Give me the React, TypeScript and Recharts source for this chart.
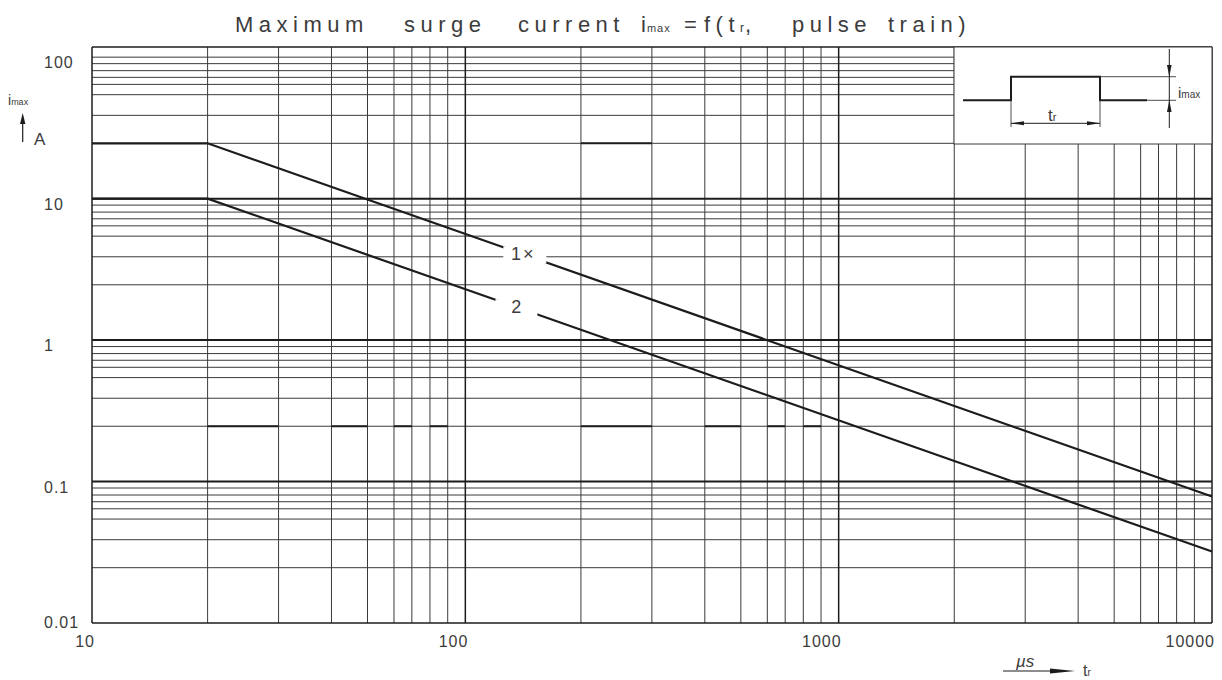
import React from "react";
import { LineChart, Line, XAxis, YAxis, ReferenceLine } from "recharts";

// pulse duration t_r in µs, and the two limit curves (A)
const T_US = [10, 20.4, 10000];
const I_1X = [24.6, 24.6, 0.0783];
const I_2 = [10, 10, 0.032];

const X_TICKS = [10, 100, 1000, 10000];
const Y_TICKS = [0.01, 0.1, 1, 10, 100];
const X_DECADES = [10, 100, 1000];
const Y_DECADES = [0.01, 0.1, 1, 10];
// the drawing's own (hand made) sub-division lines inside each decade
const X_MINOR = [2.04, 3.16, 4.38, 5.47, 6.44, 7.19, 8.04, 8.97];
const Y_MINOR = [2.46, 3.88, 5.43, 6.42, 7.2, 8.03, 9.0];
const Y_TOP = 118;

// cells drawn with a heavier line in the original sheet [x1, x2, y]
const HEAVY_CELLS: [number, number, number][] = [
  [20.4, 31.6, 0.246],
  [43.8, 54.7, 0.246],
  [64.4, 71.9, 0.246],
  [80.4, 89.7, 0.246],
  [204, 316, 0.246],
  [438, 547, 0.246],
  [644, 719, 0.246],
  [804, 897, 0.246],
  [204, 316, 24.6],
];

const W = 1222;
const H = 680;
const LEFT = 92;
const RIGHT = 1212;
const TOP = 47;
const BOTTOM = 623;
const FONT = "'Liberation Sans', Arial, sans-serif";
const INK = "#1c1c1c";
const GRID = "#3a3a3a";
const TXT = "#3c3c3c";

const data = T_US.map((t, i) => ({ t, one: I_1X[i], two: I_2[i] }));

const minorX = X_DECADES.flatMap((d) => X_MINOR.map((m) => +(d * m).toPrecision(4)));
const minorY = Y_DECADES.flatMap((d) => Y_MINOR.map((m) => +(d * m).toPrecision(4)));

// same mapping the chart uses, for placing the annotation overlay
const px = (t: number) =>
  LEFT + ((RIGHT - LEFT) * Math.log10(t / 10)) / 3;
const py = (v: number) =>
  BOTTOM - ((BOTTOM - TOP) * Math.log10(v / 0.01)) / Math.log10(Y_TOP / 0.01);

// log-log interpolation along a series, for the curve labels
const along = (ys: number[], t: number) => {
  for (let i = 0; i < T_US.length - 1; i++) {
    if (t >= T_US[i] && t <= T_US[i + 1]) {
      const f = Math.log(t / T_US[i]) / Math.log(T_US[i + 1] / T_US[i]);
      return Math.exp(Math.log(ys[i]) + f * Math.log(ys[i + 1] / ys[i]));
    }
  }
  return ys[ys.length - 1];
};

const XTick = (props: any) => {
  const { x, payload } = props;
  return (
    <text x={x + 3} y={647} textAnchor="end" fontFamily={FONT} fontSize={16} letterSpacing={1} fill={TXT}>
      {payload.value}
    </text>
  );
};

const YTick = (props: any) => {
  const { y, payload } = props;
  const cy = Math.min(Math.max(y + 5, 50), 622);
  return (
    <text x={44} y={cy + 6} textAnchor="start" fontFamily={FONT} fontSize={16} letterSpacing={1} fill={TXT}>
      {payload.value}
    </text>
  );
};

const Overlay = () => {
  const l1t = 143;
  const l2t = 137;
  const l1 = { x: px(l1t), y: py(along(I_1X, l1t)) };
  const l2 = { x: px(l2t), y: py(along(I_2, l2t)) };
  return (
    <svg
      width={W}
      height={H}
      style={{ position: "absolute", left: 0, top: 0, pointerEvents: "none" }}
    >
      {/* title */}
      <text y={32} fontFamily={FONT} fontSize={22} fill={TXT} letterSpacing={5.5}>
        <tspan x={235}>Maximum</tspan>
        <tspan x={404}>surge</tspan>
        <tspan x={518}>current</tspan>
        <tspan x={641} letterSpacing={1}>i</tspan>
        <tspan fontSize={11} letterSpacing={1}>max</tspan>
        <tspan x={684}>=</tspan>
        <tspan x={704}>f(t</tspan>
        <tspan fontSize={12} letterSpacing={1}>r</tspan>
        <tspan>,</tspan>
        <tspan x={792}>pulse</tspan>
        <tspan x={888}>train)</tspan>
      </text>

      {/* y axis caption */}
      <text x={8} y={105} fontFamily={FONT} fill={TXT}>
        <tspan fontSize={14}>i</tspan>
        <tspan fontSize={9}>max</tspan>
      </text>
      <line x1={22.7} y1={142} x2={22.7} y2={122} stroke={INK} strokeWidth={1.2} />
      <polygon points="20,124 25.4,124 22.7,113" fill={INK} />
      <text x={34} y={145} fontFamily={FONT} fontSize={17} fill={TXT}>A</text>

      {/* x axis caption */}
      <text x={1016} y={667} fontFamily={FONT} fontSize={17} fontStyle="italic" fill={TXT}>µs</text>
      <line x1={1003} y1={671} x2={1055} y2={671} stroke={INK} strokeWidth={1.2} />
      <polygon points="1050,668.5 1075,671 1050,673.5" fill={INK} />
      <text x={1083} y={676} fontFamily={FONT} fill={TXT}>
        <tspan fontSize={16}>t</tspan>
        <tspan fontSize={10}>r</tspan>
      </text>

      {/* curve labels */}
      <rect x={l1.x - 20} y={l1.y - 8} width={43} height={17} fill="#fff" />
      <text x={l1.x} y={l1.y + 6} textAnchor="middle" fontFamily={FONT} fontSize={18} letterSpacing={2} fill={TXT}>
        1×
      </text>
      <rect x={l2.x - 21} y={l2.y - 8} width={42} height={17} fill="#fff" />
      <text x={l2.x} y={l2.y + 6} textAnchor="middle" fontFamily={FONT} fontSize={18} fill={TXT}>
        2
      </text>

      {/* pulse sketch */}
      <rect x={954} y={TOP} width={RIGHT - 954} height={144 - TOP} fill="#fff" stroke={GRID} strokeWidth={1} />
      <polyline
        points="963,100.3 1011,100.3 1011,76.7 1100,76.7 1100,100.3 1147,100.3"
        fill="none"
        stroke={INK}
        strokeWidth={2}
      />
      <line x1={1100} y1={76.7} x2={1176} y2={76.7} stroke={GRID} strokeWidth={0.9} />
      <line x1={1147} y1={100.3} x2={1176} y2={100.3} stroke={GRID} strokeWidth={0.9} />
      <line x1={1011} y1={100} x2={1011} y2={127} stroke={GRID} strokeWidth={0.9} />
      <line x1={1100} y1={100} x2={1100} y2={127} stroke={GRID} strokeWidth={0.9} />
      <line x1={1169.3} y1={49} x2={1169.3} y2={128} stroke={INK} strokeWidth={1} />
      <polygon points="1167,65 1171.6,65 1169.3,76.7" fill={INK} />
      <polygon points="1167,112 1171.6,112 1169.3,100.3" fill={INK} />
      <line x1={1011} y1={123.3} x2={1100} y2={123.3} stroke={INK} strokeWidth={1} />
      <polygon points="1011,123.3 1024,121.3 1024,125.3" fill={INK} />
      <polygon points="1100,123.3 1087,121.3 1087,125.3" fill={INK} />
      <text x={1048} y={121} fontFamily={FONT} fill={TXT}>
        <tspan fontSize={17}>t</tspan>
        <tspan fontSize={11}>r</tspan>
      </text>
      <text x={1178} y={98} fontFamily={FONT} fill={TXT}>
        <tspan fontSize={15}>i</tspan>
        <tspan fontSize={10}>max</tspan>
      </text>
    </svg>
  );
};

export default function App() {
  return (
    <div style={{ position: "absolute", left: 0, top: 0, width: W, height: H, background: "#fff" }}>
      <LineChart
        width={W}
        height={H}
        data={data}
        margin={{ top: TOP, right: W - RIGHT, bottom: H - BOTTOM - 40, left: LEFT - 60 }}
      >
        <XAxis
          dataKey="t"
          type="number"
          scale="log"
          domain={[10, 10000]}
          ticks={X_TICKS}
          height={40}
          axisLine={false}
          tickLine={false}
          tick={<XTick />}
          interval={0}
        />
        <YAxis
          type="number"
          scale="log"
          domain={[0.01, Y_TOP]}
          ticks={Y_TICKS}
          width={60}
          axisLine={false}
          tickLine={false}
          tick={<YTick />}
          interval={0}
          allowDataOverflow
        />

        {minorY.map((v) => (
          <ReferenceLine key={"hy" + v} y={v} stroke={GRID} strokeWidth={1} />
        ))}
        {minorX.map((v) => (
          <ReferenceLine key={"vx" + v} x={v} stroke={GRID} strokeWidth={1} />
        ))}
        <ReferenceLine y={100} stroke={GRID} strokeWidth={1} />
        {[0.1, 1, 10].map((v) => (
          <ReferenceLine key={"dy" + v} y={v} stroke={INK} strokeWidth={2} />
        ))}
        {[100, 1000].map((v) => (
          <ReferenceLine key={"dx" + v} x={v} stroke={INK} strokeWidth={1.5} />
        ))}
        {HEAVY_CELLS.map(([a, b, v], i) => (
          <ReferenceLine
            key={"hc" + i}
            segment={[
              { x: a, y: v },
              { x: b, y: v },
            ]}
            stroke={INK}
            strokeWidth={2}
          />
        ))}
        <ReferenceLine x={10} stroke={INK} strokeWidth={1.5} />
        <ReferenceLine x={10000} stroke={INK} strokeWidth={1.5} />
        <ReferenceLine y={0.01} stroke={INK} strokeWidth={1.5} />
        <ReferenceLine y={Y_TOP} stroke={INK} strokeWidth={1.5} />

        <Line
          dataKey="one"
          type="linear"
          stroke={INK}
          strokeWidth={2.2}
          dot={false}
          isAnimationActive={false}
        />
        <Line
          dataKey="two"
          type="linear"
          stroke={INK}
          strokeWidth={2.2}
          dot={false}
          isAnimationActive={false}
        />
      </LineChart>
      <Overlay />
    </div>
  );
}
